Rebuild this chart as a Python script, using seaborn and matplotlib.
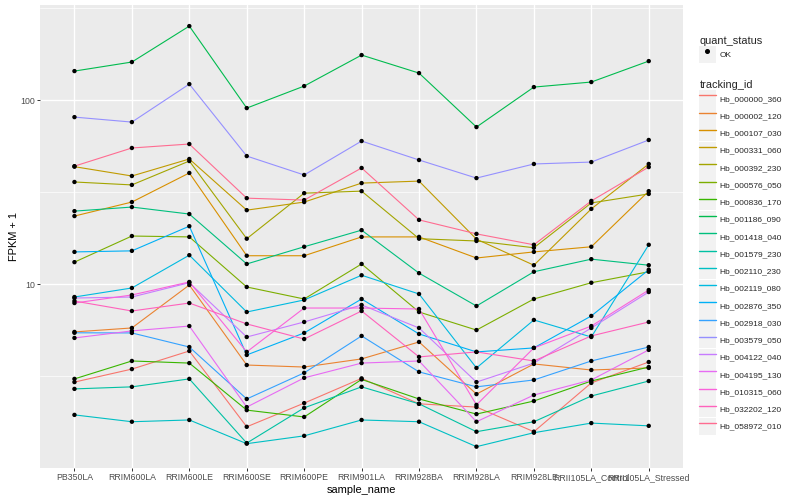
import numpy as np
import pandas as pd
import seaborn as sns
import matplotlib
matplotlib.use('Agg')
import matplotlib.pyplot as plt
from matplotlib.lines import Line2D
from matplotlib.patches import Patch
from matplotlib.legend_handler import HandlerTuple
from matplotlib.ticker import FixedLocator, FixedFormatter, NullFormatter

#Samples in plotting order
samples = ['PB350LA', 'RRIM600LA', 'RRIM600LE', 'RRIM600SE', 'RRIM600PE', 'RRIM901LA',
           'RRIM928BA', 'RRIM928LA', 'RRIM928LE', 'RRII105LA_Control', 'RRII105LA_Stressed']

#FPKM + 1 per gene
hb_000000_360 = [2.94, 3.46, 4.34, 1.68, 2.26, 3.08, 2.24, 2.15, 1.58, 2.91, 3.78]
hb_000002_120 = [5.51, 5.79, 9.91, 3.64, 3.55, 3.93, 4.86, 2.53, 3.69, 3.42, 3.51]
hb_000107_030 = [23.5, 28.0, 40.3, 14.3, 14.3, 18.1, 18.1, 13.9, 15.0, 16.0, 32.1]
hb_000331_060 = [43.6, 38.8, 48.0, 25.3, 28.0, 35.5, 36.4, 17.6, 12.7, 25.7, 45.1]
hb_000392_230 = [36.0, 34.7, 46.8, 17.7, 31.3, 32.1, 17.7, 17.2, 15.8, 27.7, 31.0]
hb_000576_050 = [13.2, 18.3, 18.1, 9.67, 8.32, 12.9, 7.07, 5.64, 8.32, 10.2, 11.7]
hb_000836_170 = [3.06, 3.83, 3.73, 2.07, 1.90, 3.04, 2.38, 1.97, 2.32, 2.98, 3.55]
hb_001186_090 = [144.3, 161.6, 253.4, 90.8, 119.6, 176.3, 140.7, 71.6, 118.1, 125.8, 163.5]
hb_001418_040 = [25.0, 26.3, 24.1, 12.9, 16.0, 19.7, 11.5, 7.62, 11.7, 13.7, 12.7]
hb_001579_230 = [2.70, 2.77, 3.06, 1.37, 2.13, 2.77, 2.24, 1.58, 1.79, 2.47, 2.98]
hb_002110_230 = [1.95, 1.79, 1.83, 1.36, 1.50, 1.83, 1.79, 1.31, 1.56, 1.76, 1.70]
hb_002119_080 = [8.53, 9.55, 14.4, 7.07, 8.22, 11.2, 8.86, 3.51, 6.40, 5.17, 16.4]
hb_002876_350 = [15.0, 15.2, 20.7, 4.13, 5.44, 8.32, 5.37, 4.29, 4.51, 6.73, 12.0]
hb_002918_030 = [5.45, 5.44, 4.56, 2.38, 3.30, 5.24, 3.34, 2.77, 3.02, 3.83, 4.56]
hb_003579_050 = [81.1, 76.2, 122.6, 49.8, 39.3, 60.1, 47.4, 37.8, 45.1, 46.2, 60.9]
hb_004122_040 = [8.42, 8.53, 10.2, 5.17, 6.24, 7.72, 5.79, 2.94, 3.73, 5.79, 9.08]
hb_004195_130 = [5.11, 5.58, 5.93, 2.15, 3.10, 3.73, 3.83, 1.79, 2.50, 3.02, 4.40]
hb_010315_060 = [7.91, 8.75, 10.3, 4.29, 7.43, 7.43, 7.34, 2.21, 4.51, 5.93, 9.31]
hb_032202_120 = [8.11, 7.16, 7.91, 6.09, 5.04, 7.16, 4.03, 4.29, 3.83, 5.24, 6.24]
hb_058972_010 = [43.9, 55.1, 57.9, 29.4, 28.7, 42.9, 22.4, 18.8, 16.4, 28.4, 43.4]

genes = ['Hb_000000_360', 'Hb_000002_120', 'Hb_000107_030', 'Hb_000331_060', 'Hb_000392_230',
         'Hb_000576_050', 'Hb_000836_170', 'Hb_001186_090', 'Hb_001418_040', 'Hb_001579_230',
         'Hb_002110_230', 'Hb_002119_080', 'Hb_002876_350', 'Hb_002918_030', 'Hb_003579_050',
         'Hb_004122_040', 'Hb_004195_130', 'Hb_010315_060', 'Hb_032202_120', 'Hb_058972_010']
series = [hb_000000_360, hb_000002_120, hb_000107_030, hb_000331_060, hb_000392_230,
          hb_000576_050, hb_000836_170, hb_001186_090, hb_001418_040, hb_001579_230,
          hb_002110_230, hb_002119_080, hb_002876_350, hb_002918_030, hb_003579_050,
          hb_004122_040, hb_004195_130, hb_010315_060, hb_032202_120, hb_058972_010]

#ggplot default hue palette for 20 levels
palette = ['#F8766D', '#EA8331', '#D89000', '#C09B00', '#A3A500', '#7CAE00', '#39B600',
           '#00BB4E', '#00BF7D', '#00C1A3', '#00BFC4', '#00BAE0', '#00B0F6', '#35A2FF',
           '#9590FF', '#C77CFF', '#E76BF3', '#FA62DB', '#FF62BC', '#FF6C91']

df = pd.DataFrame({'sample_name': samples * len(genes),
                   'fpkm': np.concatenate(series),
                   'tracking_id': np.repeat(genes, len(samples))})

sns.set_theme(style='darkgrid', rc={'axes.facecolor': '#EBEBEB', 'grid.color': 'white',
                                    'axes.edgecolor': 'none'})
plt.rcParams['font.family'] = ['Liberation Sans', 'DejaVu Sans']

fig = plt.figure(figsize=(8, 5), dpi=100)
ax = fig.add_axes([0.05, 0.064, 0.804, 0.926])

sns.lineplot(data=df, x='sample_name', y='fpkm', hue='tracking_id', hue_order=genes,
             palette=palette, sort=False, estimator=None, linewidth=0.8, legend=False, ax=ax)
sns.scatterplot(data=df, x='sample_name', y='fpkm', color='black', s=10, edgecolor='none',
                legend=False, zorder=3, ax=ax)

ax.set_yscale('log')
ax.set_ylim(1.003, 330)
ax.set_xlim(-0.6, len(samples) - 0.4)
ax.yaxis.set_major_locator(FixedLocator([10, 100]))
ax.yaxis.set_major_formatter(FixedFormatter(['10', '100']))
ax.yaxis.set_minor_locator(FixedLocator([10 ** 0.5, 10 ** 1.5, 10 ** 2.5]))
ax.yaxis.set_minor_formatter(NullFormatter())
ax.grid(which='major', color='white', linewidth=1.0)
ax.grid(which='minor', axis='y', color='white', linewidth=0.5)
ax.tick_params(which='major', length=2, width=0.7, color='#333333', labelcolor='#4D4D4D',
               labelsize=6.3, pad=1.5, bottom=True, left=True)
ax.tick_params(which='minor', length=0)
for s in ax.spines.values():
    s.set_visible(False)

ax.set_xlabel('sample_name', fontsize=7.9, color='black', labelpad=2)
ax.set_ylabel('FPKM + 1', fontsize=7.9, color='black', labelpad=1)

#legends, ggplot style keys on grey squares
key = dict(facecolor='#F2F2F2', edgecolor='none')
leg_kw = dict(loc='upper left', frameon=False, fontsize=6.0, title_fontsize=7.9,
              handlelength=1.95, handleheight=2.76, handletextpad=0.45, borderpad=0,
              labelspacing=0.03, alignment='left', handler_map={tuple: HandlerTuple(ndivide=1)})
h1 = [(Patch(**key), Line2D([], [], color='black', marker='o', markersize=2.6, linestyle='none'))]
fig.legend(h1, ['OK'], title='quant_status', bbox_to_anchor=(0.869, 0.937), **leg_kw)
h2 = [(Patch(**key), Line2D([], [], color=c, linewidth=1.0)) for c in palette]
fig.legend(h2, genes, title='tracking_id', bbox_to_anchor=(0.869, 0.849), **leg_kw)

fig.savefig('out.png', dpi=100)
